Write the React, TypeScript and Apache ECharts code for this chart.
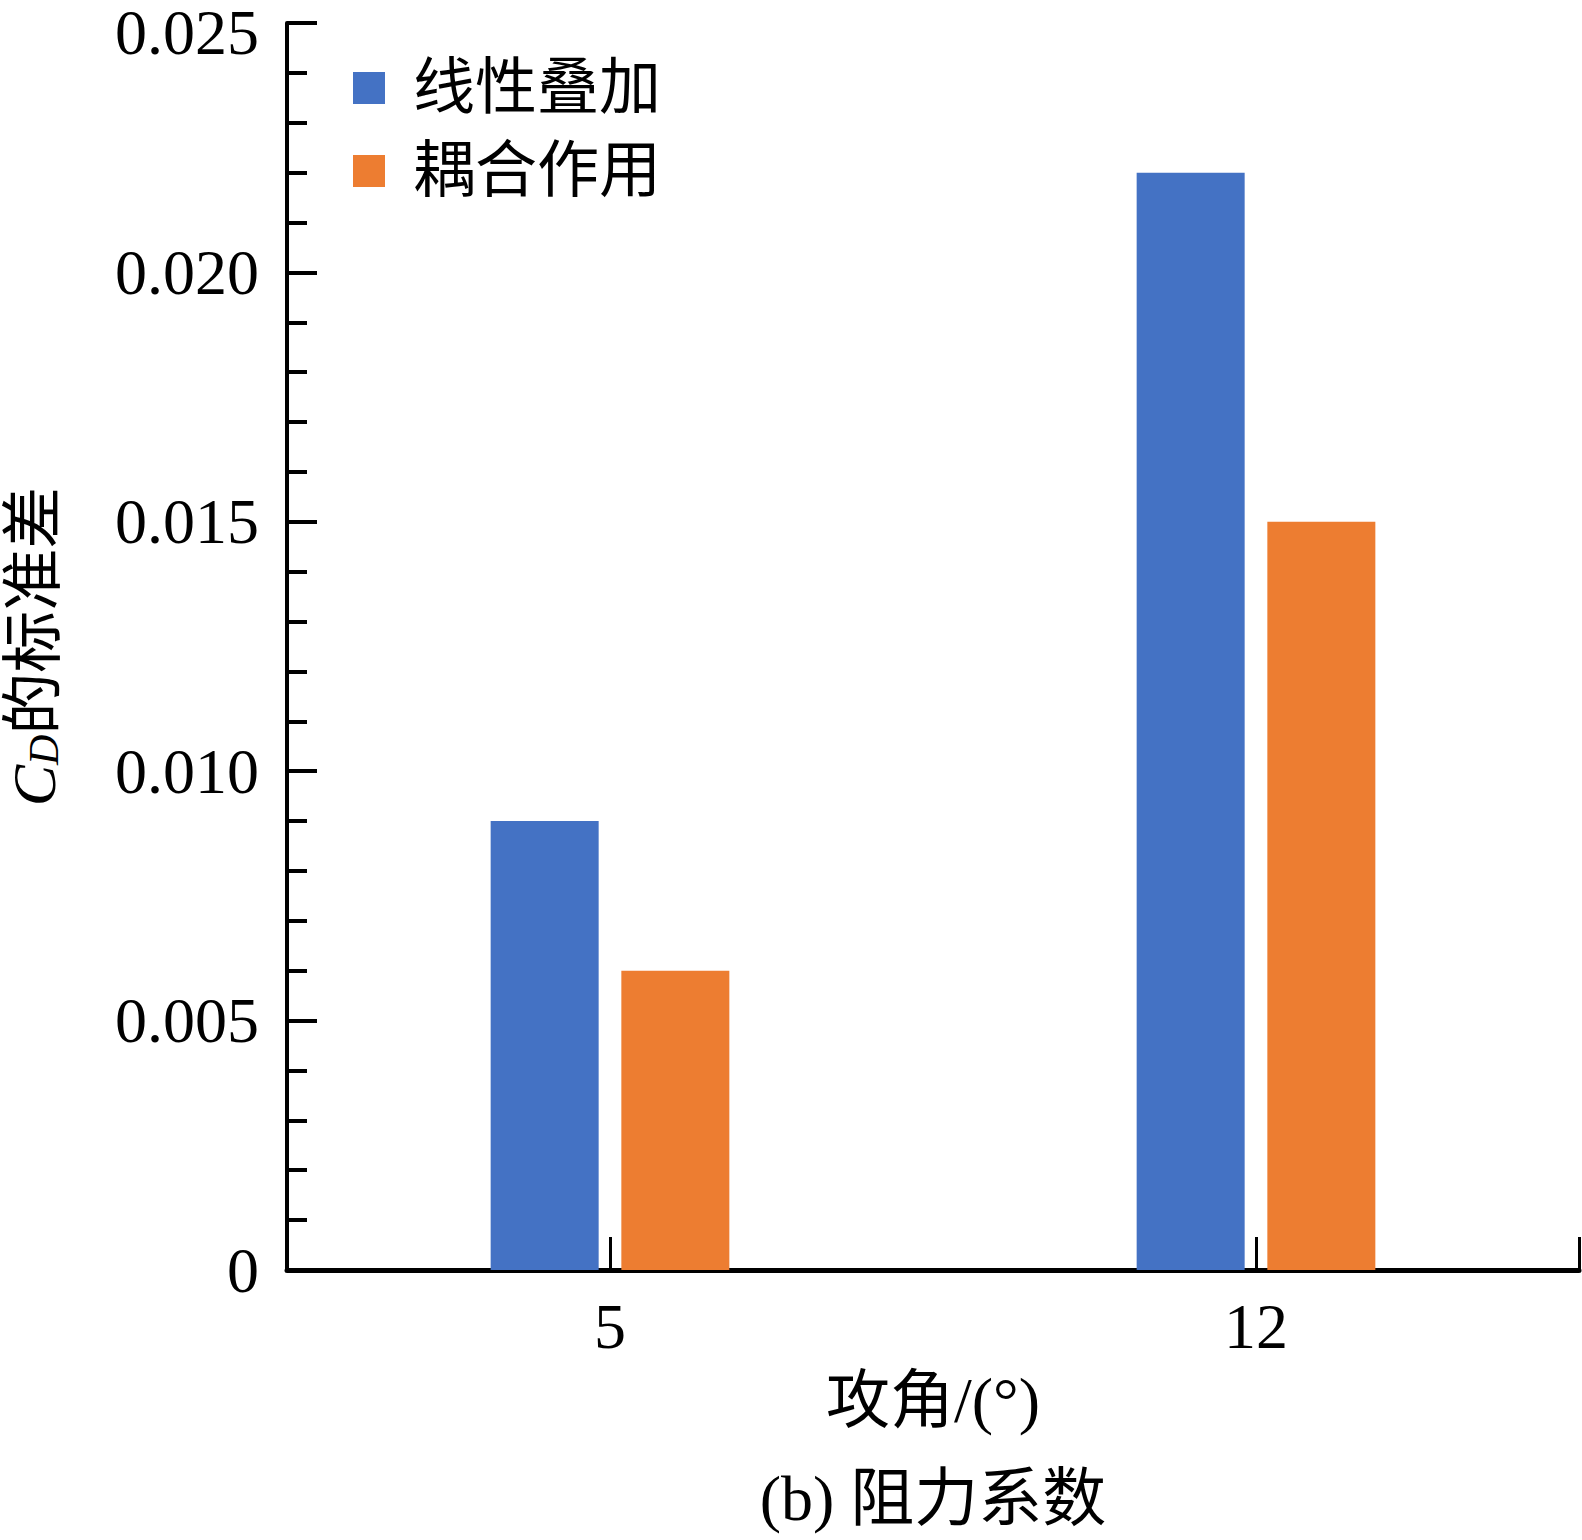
import React, { useEffect, useRef } from "react";
import * as echarts from "echarts";

const categories = ["5", "12"];
const seriesNames = ["线性叠加", "耦合作用"];
const linearValues = [0.009, 0.022];
const coupledValues = [0.006, 0.015];
const yMin = 0;
const yMax = 0.025;
const yInterval = 0.005;

const FONT = '"Times New Roman", "Liberation Serif", "Noto Sans CJK SC", serif';

export default function App() {
  const ref = useRef<HTMLDivElement>(null);

  useEffect(() => {
    if (!ref.current) return;
    const chart = echarts.init(ref.current, null, { renderer: "svg" });
    chart.setOption({
      animation: false,
      backgroundColor: "#ffffff",
      grid: {
        left: 287,
        right: 3,
        top: 23,
        bottom: 270,
        containLabel: false,
        outerBoundsMode: "none",
      },
      legend: {
        left: 348,
        top: 52,
        orient: "vertical",
        icon: "rect",
        itemWidth: 32,
        itemHeight: 32,
        itemGap: 21,
        data: seriesNames,
        textStyle: {
          fontFamily: FONT,
          fontSize: 62,
          lineHeight: 62,
          color: "#000",
          padding: [0, 0, 0, 23],
        },
      },
      xAxis: [
        {
          type: "category",
          data: categories,
          position: "bottom",
          name: "{a|攻角/(°)}\n{b|(b) 阻力系数}",
          nameLocation: "middle",
          nameGap: 72,
          nameTextStyle: {
            color: "#000",
            rich: {
              a: {
                fontFamily: FONT,
                fontSize: 64,
                lineHeight: 116,
                color: "#000",
              },
              b: {
                fontFamily: FONT,
                fontSize: 64,
                lineHeight: 80,
                color: "#000",
              },
            },
          },
          axisLine: { show: true, lineStyle: { color: "#000", width: 5 } },
          axisTick: {
            show: true,
            inside: true,
            alignWithLabel: true,
            length: 33,
            lineStyle: { color: "#000", width: 3 },
          },
          axisLabel: {
            fontFamily: FONT,
            fontSize: 64,
            color: "#000",
            margin: 24,
          },
          splitLine: { show: false },
        },
        {
          type: "value",
          position: "bottom",
          min: 0,
          max: 1,
          interval: 1,
          axisLine: { show: false },
          axisLabel: { show: false },
          axisTick: {
            show: true,
            inside: true,
            length: 33,
            lineStyle: { color: "#000", width: 3 },
          },
          splitLine: { show: false },
        },
      ],
      yAxis: {
        type: "value",
        min: yMin,
        max: yMax,
        interval: yInterval,
        name: "{c|C}{d|D}{n|的标准差}",
        nameLocation: "middle",
        nameGap: 222,
        nameTextStyle: {
          color: "#000",
          rich: {
            c: {
              fontFamily: FONT,
              fontStyle: "italic",
              fontSize: 62,
              lineHeight: 62,
              verticalAlign: "top",
              color: "#000",
            },
            d: {
              fontFamily: FONT,
              fontStyle: "italic",
              fontSize: 42,
              lineHeight: 42,
              padding: [30, 0, 0, 0],
              verticalAlign: "bottom",
              color: "#000",
            },
            n: {
              fontFamily: FONT,
              fontSize: 62,
              lineHeight: 62,
              verticalAlign: "top",
              color: "#000",
            },
          },
        },
        axisLine: { show: true, lineStyle: { color: "#000", width: 4 } },
        axisTick: {
          show: true,
          inside: true,
          length: 30,
          lineStyle: { color: "#000", width: 4 },
        },
        minorTick: {
          show: true,
          splitNumber: 5,
          length: 20,
          lineStyle: { color: "#000", width: 4 },
        },
        axisLabel: {
          fontFamily: FONT,
          fontSize: 64,
          lineHeight: 46,
          color: "#000",
          margin: 28,
          formatter: (v: number) =>
            v === 0 ? "0" : v >= yMax ? `{t|${v.toFixed(3)}}` : v.toFixed(3),
          rich: {
            t: {
              fontFamily: FONT,
              fontSize: 64,
              lineHeight: 46,
              color: "#000",
              padding: [18, 0, 0, 0],
            },
          },
        },
        splitLine: { show: false },
        minorSplitLine: { show: false },
      },
      series: [
        {
          name: seriesNames[0],
          type: "bar",
          xAxisIndex: 0,
          data: linearValues,
          barWidth: 108,
          barGap: "21%",
          itemStyle: { color: "#4472C4" },
        },
        {
          name: seriesNames[1],
          type: "bar",
          xAxisIndex: 0,
          data: coupledValues,
          barWidth: 108,
          barGap: "21%",
          itemStyle: { color: "#ED7D31" },
        },
      ],
    });
    return () => chart.dispose();
  }, []);

  return (
    <div
      ref={ref}
      style={{ position: "fixed", left: 0, top: 0, width: 1582, height: 1540 }}
    />
  );
}
